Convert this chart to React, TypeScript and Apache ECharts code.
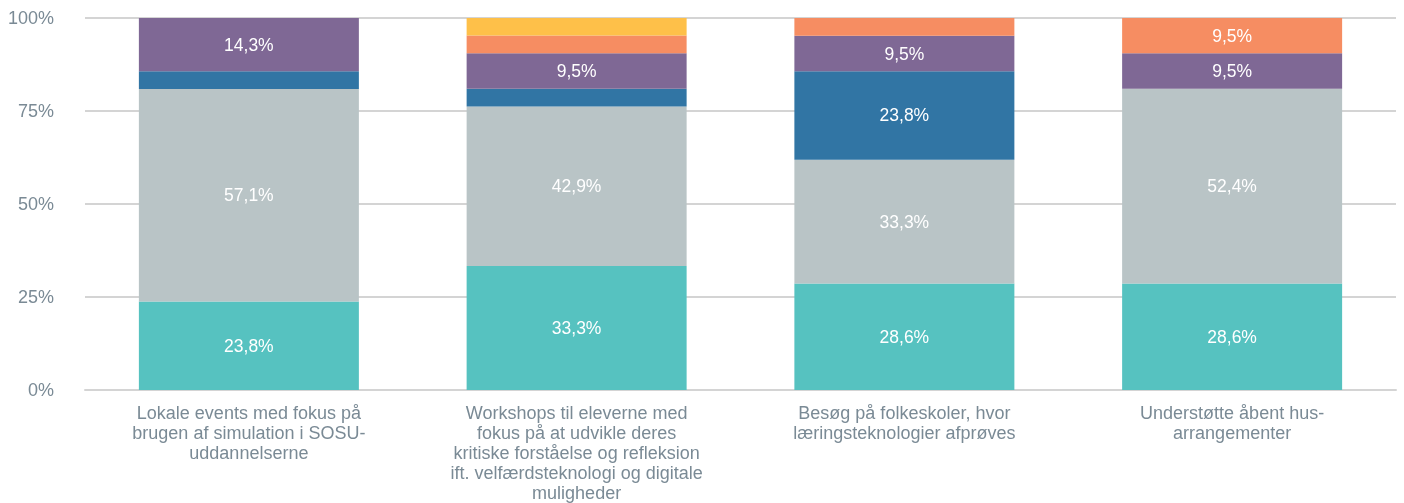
import React, { useEffect, useRef } from "react";
import * as echarts from "echarts";

const categories = [
  "Lokale events med fokus på\nbrugen af simulation i SOSU-\nuddannelserne",
  "Workshops til eleverne med\nfokus på at udvikle deres\nkritiske forståelse og refleksion\nift. velfærdsteknologi og digitale\nmuligheder",
  "Besøg på folkeskoler, hvor\nlæringsteknologier afprøves",
  "Understøtte åbent hus-\narrangementer",
];

const seriesNames = ["A", "B", "C", "D", "E", "F"];
const tealValues = [23.8, 33.3, 28.6, 28.6];
const grayValues = [57.1, 42.9, 33.3, 52.4];
const blueValues = [4.8, 4.8, 23.8, 0];
const purpleValues = [14.3, 9.5, 9.5, 9.5];
const orangeValues = [0, 4.8, 4.8, 9.5];
const yellowValues = [0, 4.8, 0, 0];

const colors = ["#56C2C0", "#B9C4C6", "#3175A4", "#7F6895", "#F68D62", "#FEC049"];
const yTicks = [0, 25, 50, 75, 100];

export default function App() {
  const ref = useRef<HTMLDivElement>(null);
  useEffect(() => {
    const chart = echarts.init(ref.current!, null, { renderer: "svg" });
    const all = [tealValues, grayValues, blueValues, purpleValues, orangeValues, yellowValues];
    chart.setOption({
      animation: false,
      grid: { left: 85, right: 8, top: 18, bottom: 113, containLabel: false },
      xAxis: {
        type: "category",
        data: categories,
        axisTick: { show: false },
        axisLine: { lineStyle: { color: "#D4D4D4", width: 2 } },
        axisLabel: {
          color: "#7A8A95",
          fontFamily: "Liberation Sans, Arial, sans-serif",
          fontSize: 18,
          lineHeight: 20,
          margin: 13,
          interval: 0,
        },
      },
      yAxis: {
        type: "value",
        min: yTicks[0],
        max: yTicks[yTicks.length - 1],
        interval: 25,
        axisLine: { show: false },
        axisTick: { show: false },
        splitLine: { lineStyle: { color: "#D4D4D4", width: 2 } },
        axisLabel: {
          color: "#7A8A95",
          fontFamily: "Liberation Sans, Arial, sans-serif",
          fontSize: 18,
          margin: 31,
          formatter: "{value}%",
        },
      },
      series: all.map((vals, i) => ({
        name: seriesNames[i],
        type: "bar",
        stack: "total",
        barWidth: 220,
        data: vals,
        itemStyle: { color: colors[i] },
        label: {
          show: true,
          position: "inside",
          color: "#FFFFFF",
          fontFamily: "Liberation Sans, Arial, sans-serif",
          fontSize: 17.5,
          formatter: (p: any) =>
            p.value >= 9 ? p.value.toFixed(1).replace(".", ",") + "%" : "",
        },
      })),
    });
    return () => chart.dispose();
  }, []);
  return (
    <div
      ref={ref}
      style={{ position: "fixed", left: 0, top: 0, width: 1404, height: 503 }}
    />
  );
}
